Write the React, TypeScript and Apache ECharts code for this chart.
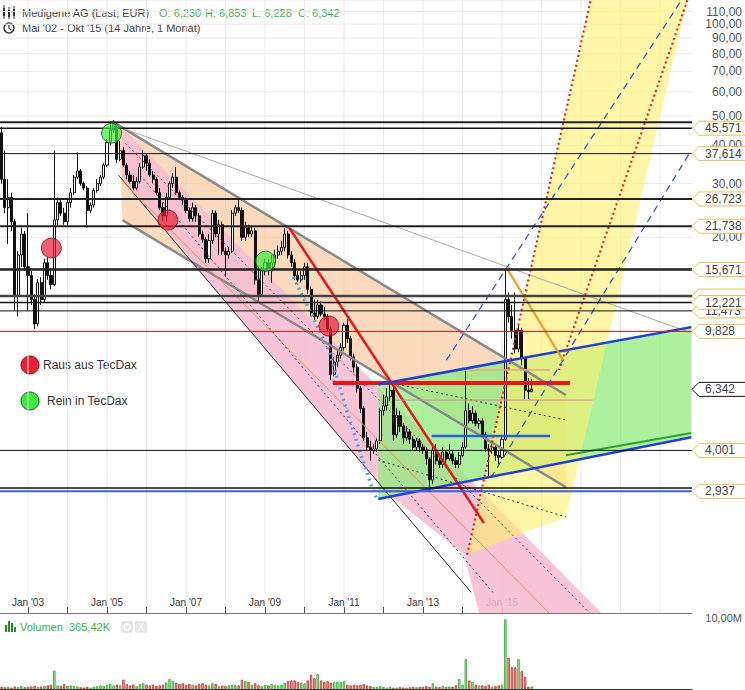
import React, { useEffect, useRef } from 'react';
import * as echarts from 'echarts';

// month index 0 = Mai 2002
const FIRST_OPEN = 44;
const closes = [
  31, 25, 27, 22.5, 12.8, 17.5, 20.5, 16, 15, 12.5,
  10.4, 14.2, 12.5, 16.5, 15, 14, 22.8, 26, 24, 22.5,
  26, 28, 31.5, 33, 30, 29, 24.5, 25.5, 28.5, 30,
  31.5, 34.5, 41, 45, 47, 36, 38.5, 34.5, 32, 30.5,
  29, 30.5, 34, 37, 35, 32, 31, 28, 25, 23.5,
  27, 30, 31.5, 28, 27, 26.5, 24.5, 23, 25, 23.5,
  20.5, 19.7, 17, 19.5, 24, 20.5, 22, 18, 17.5, 18,
  24, 25, 24.5, 20, 21.5, 20.5, 21, 14.5, 13, 15.5,
  16.5, 15.5, 16.5, 17.5, 18, 18.5, 20.5, 17.5, 16.5, 15,
  14.5, 15, 16, 13.5, 11.3, 11, 12, 11.2, 11, 10,
  7.1, 7.8, 8.2, 8.7, 10.3, 9.3, 8.1, 7.5, 6.4, 5.5,
  4.4, 4.1, 4.0, 4.05, 4.3, 5.4, 5.6, 6.0, 6.3, 4.5,
  5.2, 4.8, 4.4, 4.6, 4.35, 4.1, 4.3, 4.1, 4.0, 3.75,
  3.2, 4.0, 3.7, 3.6, 3.95, 3.75, 3.9, 3.7, 3.6, 3.85,
  4.1, 5.4, 5.0, 5.3, 4.9, 5.0, 4.5, 4.05, 4.0, 4.1,
  3.85, 3.8, 4.35, 12.5, 11, 9.9, 8.6, 9.9, 8.0, 6.3,
  6.23, 6.342
];
const highs = [
  46, 38.5, 31, 28, 23, 18, 21.5, 21, 24, 15.5,
  13, 14.6, 14.8, 17, 17.2, 15.6, 38.5, 27, 26.8, 25,
  26.5, 29, 32, 38, 33.5, 30.5, 29.5, 26, 29, 31,
  32, 35, 42, 48, 48.5, 47.5, 41.5, 39.5, 35, 33,
  32, 31.5, 35, 38.6, 37.5, 36, 33, 31.5, 29, 26,
  28, 30.5, 32.5, 34, 28.5, 27.5, 27, 25, 26, 25.5,
  24, 21, 20, 20.5, 24.6, 24.5, 22.8, 22.5, 18.5, 18.5,
  24.6, 25.5, 27, 25, 22.5, 22, 21.8, 21.5, 16, 16,
  17, 17, 17.5, 18.2, 18.8, 19.5, 21.5, 21, 18, 17,
  15.5, 15.5, 16.5, 16.5, 13.8, 12.5, 12.5, 12.3, 11.8, 11.2,
  10.2, 8.1, 8.5, 9, 10.5, 10.8, 9.5, 8.3, 7.7, 6.5,
  5.6, 4.6, 4.3, 4.2, 4.4, 5.5, 6.1, 6.4, 6.65, 6.5,
  5.5, 5.4, 4.9, 4.8, 4.7, 4.45, 4.4, 4.4, 4.2, 4.1,
  3.8, 4.1, 4.2, 3.9, 4.1, 4.0, 4.2, 4.0, 3.8, 3.95,
  4.25, 7.3, 5.7, 5.6, 5.4, 5.1, 5.1, 4.6, 4.2, 4.3,
  4.2, 4.0, 4.5, 15.7, 13.2, 12, 13.2, 10.3, 10.1, 8.1,
  6.9, 6.853
];
const lows = [
  30, 24, 19, 21, 11.5, 11, 16, 15.5, 11.5, 12,
  10, 10.2, 12, 12.2, 14.5, 13.5, 13.8, 22, 23.5, 22,
  22, 25, 27.5, 31, 29.5, 28.5, 21.5, 24, 25, 28,
  29.5, 31, 34, 40, 44, 35, 35.5, 34, 31, 30,
  28.5, 28.5, 30, 33.5, 33, 31.5, 30, 27.5, 24.5, 22.5,
  22.5, 26.5, 29, 27.5, 26.5, 25.5, 24, 22.5, 22.5, 22.5,
  20, 19.2, 16.5, 16.5, 19, 20, 17.5, 17.5, 14.8, 17,
  17.8, 23.5, 24, 19.5, 19.5, 20, 20, 14, 12.4, 12.8,
  15, 15, 14.2, 16, 17, 17.5, 18, 17, 16, 14.5,
  14, 14.2, 14.5, 13, 11, 10.7, 10.8, 11, 10.7, 9.8,
  6.8, 7, 7.5, 8, 8.5, 9, 7.9, 7.2, 6.2, 5.3,
  4.3, 4.0, 3.7, 3.9, 3.95, 4.2, 5.2, 5.4, 5.8, 4.3,
  4.4, 4.6, 4.2, 4.3, 4.2, 4.0, 4.0, 3.95, 3.9, 3.6,
  2.95, 3.1, 3.6, 3.5, 3.5, 3.6, 3.7, 3.6, 3.5, 3.5,
  3.8, 4.05, 4.9, 4.9, 4.8, 4.7, 4.4, 3.95, 3.25, 3.9,
  3.7, 3.6, 3.75, 4.3, 10.5, 9.3, 8.3, 8.4, 7.6, 5.9,
  5.9, 6.228
];
// Volumen in Mio.
const volumes = [
  0.3, 0.25, 0.3, 0.2, 0.35, 0.3, 0.4, 0.25, 0.3, 0.35,
  0.4, 0.3, 0.35, 0.45, 0.5, 0.6, 2.6, 0.5, 0.4, 0.7,
  0.45, 0.5, 0.4, 0.35, 0.25, 0.2, 0.3, 0.2, 0.3, 0.4,
  0.5, 0.45, 0.6, 0.7, 0.5, 0.6, 0.5, 1.3, 0.7, 0.5,
  0.6, 0.4, 0.7, 0.8, 0.6, 0.5, 0.6, 0.4, 0.5, 0.6,
  0.9, 1.4, 1.1, 0.9, 0.7, 0.8, 0.6, 0.7, 0.6, 0.5,
  0.7, 0.8, 0.6, 0.5, 0.8, 0.7, 0.4, 0.5, 0.4, 0.5,
  0.6, 0.55, 0.5, 1.3, 1.1, 1.0, 0.6, 0.8, 0.5, 0.4,
  0.6, 0.5, 0.7, 0.6, 0.5, 0.6, 0.9, 1.1, 1.2, 1.2,
  1.0, 0.9, 0.8, 1.2, 2.0, 1.5, 2.1, 1.2, 1.0, 1.1,
  0.9, 1.0, 1.0, 1.0, 1.1, 0.6, 0.5, 0.6, 0.5, 0.6,
  0.7, 0.5, 0.4, 0.3, 0.3, 0.4, 0.3, 0.2, 0.3, 0.2,
  0.2, 0.25, 0.2, 0.2, 0.25, 0.3, 0.25, 0.3, 0.3, 0.4,
  0.3, 0.8, 0.3, 0.25, 0.4, 0.3, 0.35, 0.3, 0.5, 1.4,
  0.6, 4.2, 1.2, 1.0, 0.6, 0.5, 0.5, 0.4, 0.6, 0.3,
  0.4, 0.5, 0.6, 9.8, 4.4, 3.05, 3.05, 4.2, 2.5, 1.7,
  0.3, 0.365
];

const yearTicks = [8, 20, 32, 44, 56, 68, 80, 92, 104, 116, 128, 140, 152];
const gridYears = [8, 20, 32, 44, 56, 68, 80, 92, 104, 116, 128, 140, 152, 164, 176, 188, 200];
const labelTicks = [8, 32, 56, 80, 104, 128, 152];
const priceTicks = [20, 30, 40, 50, 60, 70, 80, 90, 100, 110, 120];

const X_MIN = -0.5;
const X_MAX = 209.7;
const Y_MIN = 1.172;
const Y_MAX = 120;

// horizontal levels: value, colour, width, label, label border
const levels = [
  { v: 47.7, c: '#222', w: 2, label: null, bc: '' },
  { v: 45.571, c: '#111', w: 1.5, label: '45,571', bc: '#e2c35a' },
  { v: 37.614, c: '#111', w: 1, label: '37,614', bc: '#e2c35a' },
  { v: 26.723, c: '#222', w: 2, label: '26,723', bc: '#e2c35a' },
  { v: 21.738, c: '#222', w: 2, label: '21,738', bc: '#e2c35a' },
  { v: 15.671, c: '#222', w: 2.5, label: '15,671', bc: '#e2c35a' },
  { v: 12.83, c: '#444', w: 2.5, label: '', bc: '#e2c35a' },
  { v: 11.473, c: '#111', w: 1, label: '11,473', bc: '#e2c35a' },
  { v: 12.221, c: '#111', w: 1.5, label: '12,221', bc: '#e2c35a' },
  { v: 9.828, c: '#d41414', w: 1, label: '9,828', bc: '#e2c35a' },
  { v: 4.001, c: '#111', w: 1, label: '4,001', bc: '#e2c35a' },
  { v: 3.01, c: '#111', w: 1.5, label: null, bc: '' },
  { v: 2.937, c: '#3a5fe0', w: 2, label: '2,937', bc: '#e2c35a' },
  { v: 6.342, c: '', w: 0, label: '6,342', bc: '#111' }
];

// filled zones [monthIndex, price]
const zones = [
  { fill: 'rgba(250,196,150,0.62)', pts: [[35.5, 46.7], [171.4, 6.08], [171.4, 3.03], [36.7, 22.77]] },
  { fill: 'rgba(248,188,210,0.88)', pts: [[36.7, 45.6], [182.2, 1.172], [145.0, 1.172], [140.5, 1.82], [117.1, 2.9], [36.7, 30.8]] },
  { fill: 'rgba(140,236,120,0.72)', pts: [[114.4, 6.65], [209.5, 10.23], [209.5, 4.42], [114.4, 2.79]] },
  { fill: 'rgba(255,240,110,0.6)', pts: [[141.4, 1.82], [178.9, 119.8], [208.3, 119.8], [171.4, 2.42]] }
];

// trend lines
const lines = [
  { c: '#8a8a8a', w: 2.5, d: null, pts: [[34.9, 47.0], [171.4, 6.08]] },
  { c: '#8a8a8a', w: 2.5, d: null, pts: [[36.7, 22.77], [171.4, 3.03]] },
  { c: '#aaaaaa', w: 1, d: null, pts: [[34.9, 46.3], [209.5, 9.7]] },
  { c: '#222', w: 1, d: null, pts: [[35.5, 31.98], [142.6, 1.37]] },
  { c: '#f0905a', w: 1, d: null, pts: [[36.7, 30.6], [166.3, 1.172]] },
  { c: '#6a3a2a', w: 1, d: [2, 3], pts: [[37.6, 40.7], [178.6, 1.172]] },
  { c: '#333', w: 1, d: [2, 3], pts: [[42.1, 31.98], [149.2, 1.37]] },
  { c: '#333', w: 1, d: [2, 3], pts: [[118.6, 6.65], [171.4, 5.03]] },
  { c: '#333', w: 1, d: [2, 3], pts: [[114.4, 3.72], [171.4, 2.42]] },
  { c: '#4aa8e0', w: 3.5, d: [2, 4], pts: [[88.6, 14.81], [99.4, 8.54], [105.4, 5.15], [112.0, 3.13], [114.1, 2.75]] },
  { c: '#e8161b', w: 2.5, d: null, pts: [[87.4, 21.44], [146.5, 2.31]] },
  { c: '#e8161b', w: 4, d: null, pts: [[100.6, 6.65], [172.6, 6.65]] },
  { c: '#f4a080', w: 1.5, d: null, pts: [[141.4, 7.34], [166.6, 7.34]] },
  { c: '#d88a9a', w: 1, d: null, pts: [[119.5, 5.85], [179.5, 5.85]] },
  { c: '#2b5fd9', w: 2.5, d: null, pts: [[130.6, 4.46], [166.6, 4.46]] },
  { c: '#1f3fd6', w: 2.5, d: null, pts: [[114.4, 6.58], [209.5, 10.15]] },
  { c: '#1f3fd6', w: 2.5, d: null, pts: [[114.4, 2.77], [209.5, 4.42]] },
  { c: '#2fa02f', w: 2, d: null, pts: [[171.4, 3.86], [209.5, 4.56]] },
  { c: '#e8161b', w: 2, d: [2, 3], pts: [[141.4, 1.82], [178.9, 119.8]] },
  { c: '#e8161b', w: 2, d: [2, 3], pts: [[208.3, 119.8], [169.3, 7.34]] },
  { c: '#2a4fd8', w: 1.2, d: [7, 5], pts: [[135.1, 7.91], [206.5, 119.8]] },
  { c: '#2a4fd8', w: 1.2, d: [7, 5], pts: [[148.6, 3.25], [209.5, 38.6]] },
  { c: '#f39a1e', w: 2, d: null, pts: [[153.4, 15.85], [170.5, 7.91]] }
];

const redMarks = [[15.1, 18.44], [50.5, 22.77], [99.4, 10.23]];
const greenMarks = [[33.4, 43.9], [80.2, 16.7]];

const headerStats = [
  { text: 'O: 6,230', x: 159 },
  { text: 'H: 6,853', x: 205 },
  { text: 'L: 6,228', x: 252 },
  { text: 'C: 6,342', x: 298 }
];

const FONT = '"Liberation Sans", Arial, sans-serif';

function monthLabel(v: number) {
  const year = 2002 + Math.floor((v + 4) / 12);
  return "Jan '" + String(year).slice(2);
}

export default function App() {
  const ref = useRef<HTMLDivElement>(null);
  useEffect(() => {
    document.body.style.margin = '0';
    if (!ref.current) return;
    const chart = echarts.init(ref.current, null, { renderer: 'svg' });

    const candles = closes.map((c, i) => [i, i === 0 ? FIRST_OPEN : closes[i - 1], c, lows[i], highs[i]]);
    const volData = volumes.map((v, i) => {
      const o = i === 0 ? FIRST_OPEN : closes[i - 1];
      const up = closes[i] >= o;
      return {
        value: [i, v],
        itemStyle: up
          ? { color: '#9cf08c', borderColor: '#2f9f2f', borderWidth: 0.8 }
          : { color: '#f5a4a4', borderColor: '#b82a2a', borderWidth: 0.8 }
      };
    });

    const gridLines: number[][][] = [
      ...gridYears.map((v) => [[v, Y_MIN], [v, Y_MAX]]),
      ...priceTicks.map((v) => [[X_MIN, v], [X_MAX, v]])
    ];

    const option: any = {
      animation: false,
      backgroundColor: '#fff',
      grid: [
        { left: 0, right: 45, top: 0, bottom: 77 },
        { left: 0, right: 45, top: 618, bottom: 1 }
      ],
      xAxis: [
        {
          type: 'value', gridIndex: 0, min: X_MIN, max: X_MAX,
          splitLine: { show: false },
          axisLine: { show: true, lineStyle: { color: '#777', width: 1 } },
          axisTick: { show: true, inside: true, length: 6, customValues: yearTicks, lineStyle: { color: '#555' } },
          axisLabel: {
            show: true, inside: true, margin: 6, customValues: labelTicks,
            formatter: (v: number) => monthLabel(v), color: '#333', fontSize: 10, fontFamily: FONT
          }
        },
        {
          type: 'value', gridIndex: 1, min: X_MIN, max: X_MAX,
          splitLine: { show: false },
          axisLine: { show: true, lineStyle: { color: '#333', width: 1 } },
          axisTick: { show: false }, axisLabel: { show: false }
        }
      ],
      yAxis: [
        {
          type: 'log', logBase: 10, gridIndex: 0, position: 'right', min: Y_MIN, max: Y_MAX,
          splitLine: { show: false }, axisLine: { show: false }, axisTick: { show: false },
          axisLabel: {
            show: true, customValues: priceTicks, align: 'right', margin: 50,
            formatter: (v: number) => v.toFixed(2).replace('.', ','),
            color: '#555', fontSize: 12, fontFamily: FONT
          }
        },
        {
          type: 'value', gridIndex: 1, position: 'right', min: 0, max: 10,
          splitLine: { show: false }, axisLine: { show: false }, axisTick: { show: false },
          axisLabel: {
            show: true, customValues: [10], align: 'right', margin: 50,
            formatter: () => '10,00M', color: '#555', fontSize: 11, fontFamily: FONT
          }
        }
      ],
      series: [
        {
          type: 'custom', name: 'grid', xAxisIndex: 0, yAxisIndex: 0, z: 0, silent: true, clip: true,
          data: gridLines.map((g) => g[0]),
          renderItem: (params: any, api: any) => {
            const g = gridLines[params.dataIndex];
            const a = api.coord(g[0]);
            const b = api.coord(g[1]);
            return { type: 'line', shape: { x1: a[0], y1: a[1], x2: b[0], y2: b[1] }, style: { stroke: '#e9e9e9', lineWidth: 1 } };
          }
        },
        {
          type: 'custom', name: 'zones', xAxisIndex: 0, yAxisIndex: 0, z: 1, silent: true, clip: true,
          data: zones.map((z) => z.pts[0]),
          renderItem: (params: any, api: any) => {
            const z = zones[params.dataIndex];
            return { type: 'polygon', shape: { points: z.pts.map((p) => api.coord(p)) }, style: { fill: z.fill } };
          }
        },
        {
          type: 'candlestick', name: 'Medigene', xAxisIndex: 0, yAxisIndex: 0, z: 3,
          data: candles, encode: { x: 0, y: [1, 2, 3, 4] }, barWidth: 2.6,
          itemStyle: { color: '#ffffff', color0: '#111111', borderColor: '#111111', borderColor0: '#111111', borderWidth: 1 }
        },
        {
          type: 'custom', name: 'lines', xAxisIndex: 0, yAxisIndex: 0, z: 4, silent: true, clip: true,
          data: lines.map((l) => l.pts[0]),
          renderItem: (params: any, api: any) => {
            const l = lines[params.dataIndex];
            const style: any = { stroke: l.c, lineWidth: l.w, fill: null };
            if (l.d) style.lineDash = l.d;
            return { type: 'polyline', shape: { points: l.pts.map((p) => api.coord(p)) }, style };
          }
        },
        {
          type: 'custom', name: 'levels', xAxisIndex: 0, yAxisIndex: 0, z: 5, silent: true, clip: false,
          data: levels.map((l) => [0, l.v]),
          renderItem: (params: any, api: any) => {
            const l = levels[params.dataIndex];
            const y = api.coord([0, l.v])[1];
            const cs = params.coordSys;
            const x0 = cs.x;
            const x1 = cs.x + cs.width;
            const children: any[] = [];
            if (l.w > 0) {
              children.push({ type: 'line', shape: { x1: x0, y1: y, x2: x1, y2: y }, style: { stroke: l.c, lineWidth: l.w } });
            }
            if (l.label !== null) {
              children.push({
                type: 'polygon',
                shape: { points: [[x1, y], [x1 + 7, y - 7], [x1 + 60, y - 7], [x1 + 60, y + 7], [x1 + 7, y + 7]] },
                style: { fill: '#ffffff', stroke: l.bc, lineWidth: 1 }
              });
              if (l.label) {
                children.push({
                  type: 'text',
                  style: { text: l.label, x: x1 + 13, y, fill: '#444', fontSize: 12, fontFamily: FONT, verticalAlign: 'middle', align: 'left' }
                });
              }
            }
            return { type: 'group', children };
          }
        },
        {
          type: 'scatter', name: 'Raus', xAxisIndex: 0, yAxisIndex: 0, z: 6, symbolSize: 20,
          data: redMarks, itemStyle: { color: 'rgba(234,32,56,0.88)', borderColor: '#7a1020', borderWidth: 1 }
        },
        {
          type: 'scatter', name: 'Rein', xAxisIndex: 0, yAxisIndex: 0, z: 6, symbolSize: 20,
          data: greenMarks, itemStyle: { color: 'rgba(60,235,60,0.88)', borderColor: '#1c5a1c', borderWidth: 1 }
        },
        {
          type: 'bar', name: 'Volumen', xAxisIndex: 1, yAxisIndex: 1, barWidth: 2.4, data: volData
        }
      ],
      graphic: [
        { type: 'rect', shape: { x: 3, y: 8, width: 2, height: 8 }, style: { fill: '#333' } },
        { type: 'line', shape: { x1: 4, y1: 5, x2: 4, y2: 19 }, style: { stroke: '#333', lineWidth: 1 } },
        { type: 'rect', shape: { x: 8, y: 10, width: 2, height: 7 }, style: { fill: '#333' } },
        { type: 'line', shape: { x1: 9, y1: 7, x2: 9, y2: 19 }, style: { stroke: '#333', lineWidth: 1 } },
        { type: 'rect', shape: { x: 13, y: 9, width: 2, height: 7 }, style: { fill: '#333' } },
        { type: 'line', shape: { x1: 14, y1: 6, x2: 14, y2: 19 }, style: { stroke: '#333', lineWidth: 1 } },
        { type: 'text', style: { text: 'Medigene AG (Last, EUR)', x: 22, y: 13, fill: '#444', fontSize: 11, fontFamily: FONT, verticalAlign: 'middle' } },
        ...headerStats.map((h) => ({ type: 'text', style: { text: h.text, x: h.x, y: 13, fill: '#4cb04c', fontSize: 11, fontFamily: FONT, verticalAlign: 'middle' } })),
        { type: 'circle', shape: { cx: 9, cy: 28, r: 5 }, style: { fill: 'none', stroke: '#333', lineWidth: 1.5 } },
        { type: 'polyline', shape: { points: [[9, 25], [9, 28], [11, 30]] }, style: { fill: 'none', stroke: '#333', lineWidth: 1.2 } },
        { type: 'text', style: { text: "Mai '02 - Okt '15 (14 Jahre, 1 Monat)", x: 22, y: 28, fill: '#444', fontSize: 11, fontFamily: FONT, verticalAlign: 'middle' } },
        { type: 'circle', shape: { cx: 30, cy: 365, r: 9 }, style: { fill: 'rgb(234,32,56)', stroke: '#7a1020', lineWidth: 1 } },
        { type: 'text', style: { text: 'Raus aus TecDax', x: 43, y: 365, fill: '#333', fontSize: 12, fontFamily: FONT, verticalAlign: 'middle' } },
        { type: 'circle', shape: { cx: 30, cy: 401, r: 9 }, style: { fill: 'rgb(60,235,60)', stroke: '#1c5a1c', lineWidth: 1 } },
        { type: 'text', style: { text: 'Rein in TecDax', x: 47, y: 401, fill: '#333', fontSize: 12, fontFamily: FONT, verticalAlign: 'middle' } },
        { type: 'rect', shape: { x: 5, y: 625, width: 2, height: 7 }, style: { fill: '#2a8a2a' } },
        { type: 'rect', shape: { x: 8, y: 621, width: 2, height: 11 }, style: { fill: '#2a8a2a' } },
        { type: 'rect', shape: { x: 11, y: 623, width: 2, height: 9 }, style: { fill: '#2a8a2a' } },
        { type: 'rect', shape: { x: 14, y: 627, width: 2, height: 5 }, style: { fill: '#2a8a2a' } },
        { type: 'text', style: { text: 'Volumen', x: 20, y: 627, fill: '#3cb43c', fontSize: 11, fontFamily: FONT, verticalAlign: 'middle' } },
        { type: 'text', style: { text: '365,42K', x: 69, y: 627, fill: '#3cb43c', fontSize: 11, fontFamily: FONT, verticalAlign: 'middle' } },
        { type: 'rect', shape: { x: 121, y: 621, width: 12, height: 12, r: 2 }, style: { fill: '#e6e6e6' } },
        { type: 'rect', shape: { x: 135, y: 621, width: 12, height: 12, r: 2 }, style: { fill: '#e6e6e6' } },
        { type: 'text', style: { text: 'X', x: 141, y: 627, fill: '#fff', fontSize: 10, fontFamily: FONT, align: 'center', verticalAlign: 'middle' } },
        { type: 'circle', shape: { cx: 127, cy: 627, r: 3 }, style: { fill: 'none', stroke: '#fff', lineWidth: 1.5 } }
      ]
    };
    chart.setOption(option);
    return () => chart.dispose();
  }, []);
  return <div ref={ref} style={{ width: 745, height: 690 }} />;
}
